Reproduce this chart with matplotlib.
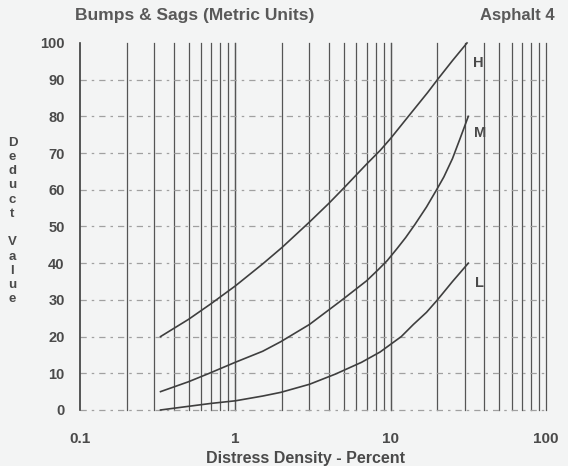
import numpy as np
import matplotlib.pyplot as plt

plt.rcParams['font.family'] = ['Liberation Sans', 'DejaVu Sans']

# values (density %, deduct value)
h_x = [0.33, 0.5, 0.7, 1.0, 1.5, 2.0, 3.0, 4.0, 5.0, 7.0, 8.55, 10.0, 13.0, 17.3, 20.0, 25.0, 31.0]
h_y = [20.0, 24.7, 29.0, 33.8, 39.8, 44.3, 51.2, 56.3, 60.5, 67.0, 70.7, 74.0, 80.0, 86.5, 90.0, 95.2, 100.0]

m_x = [0.33, 0.5, 0.68, 1.0, 1.5, 1.96, 3.0, 4.87, 7.0, 8.3, 9.5, 11.0, 12.5, 14.3, 17.0, 20.0, 22.0, 25.0, 28.0, 31.6]
m_y = [5.0, 7.7, 10.0, 13.0, 16.0, 18.6, 23.3, 30.0, 35.2, 38.2, 40.7, 44.0, 47.0, 50.5, 55.3, 60.4, 63.5, 68.5, 74.0, 80.0]

l_x = [0.33, 0.5, 0.7, 1.0, 1.5, 1.96, 3.0, 4.42, 6.5, 8.55, 11.7, 14.0, 17.0, 20.0, 25.0, 31.6]
l_y = [0.0, 1.0, 1.8, 2.5, 3.8, 4.8, 7.0, 9.8, 13.0, 15.8, 20.0, 23.3, 26.6, 30.0, 35.0, 40.0]

curve_names = ['H', 'M', 'L']
label_pos = [(34, 94.5), (34.5, 75.5), (35, 34.5)]

x_ticks = [0.1, 1, 10, 100]
x_tick_labels = ['0.1', '1', '10', '100']
y_ticks = list(range(0, 101, 10))

ink = '#4a4a4a'
fig = plt.figure(figsize=(5.68, 4.66), dpi=100, facecolor='#f3f4f4')
ax = fig.add_axes([0.1408, 0.1202, 0.8205, 0.7876])
ax.set_facecolor('#f3f4f4')
ax.set_xscale('log')
ax.set_xlim(0.1, 100)
ax.set_ylim(0, 100)

# vertical grid: every integer multiple per decade
for dec in [0.1, 1, 10]:
    for k in range(1, 11):
        v = dec * k
        if v <= 100:
            dark = v == 0.1
            ax.axvline(v, color='#3a3a3a' if dark else '#555555', lw=1.2 if dark else 0.9,
                       zorder=2 if dark else 1, clip_on=False)
# horizontal dashed grid
for v in range(0, 100, 10):
    ax.axhline(v, color='#a0a0a0', lw=0.9, ls=(0, (5, 4, 2, 4)), zorder=1, clip_on=False)

for xs, ys, name, pos in zip([h_x, m_x, l_x], [h_y, m_y, l_y], curve_names, label_pos):
    ax.plot(xs, ys, color='#3f3f3f', lw=1.2, zorder=3, clip_on=False)
    ax.text(pos[0], pos[1], name, fontsize=10.5, fontweight='bold', color=ink,
            ha='left', va='center')

for s in ax.spines.values():
    s.set_visible(False)
ax.tick_params(length=0)
ax.set_xticks(x_ticks)
ax.set_xticklabels(x_tick_labels, fontsize=11, fontweight='bold', color=ink)
ax.set_xticks([], minor=True)
ax.set_yticks(y_ticks)
ax.set_yticklabels([str(v) for v in y_ticks], fontsize=10.5, fontweight='bold', color=ink)
ax.tick_params(axis='y', pad=11)
ax.tick_params(axis='x', pad=16)

fig.text(0.537, 0.017, 'Distress Density - Percent', fontsize=11.5, fontweight='bold',
         color=ink, ha='center', va='center')
fig.text(0.022, 0.526, 'D\ne\nd\nu\nc\nt\n\nV\na\nl\nu\ne', fontsize=9.5, fontweight='bold',
         color=ink, ha='center', va='center', linespacing=1.25)
fig.text(0.132, 0.967, 'Bumps & Sags (Metric Units)', fontsize=12.5, fontweight='bold',
         color='#595959', ha='left', va='center')
fig.text(0.977, 0.967, 'Asphalt 4', fontsize=12, fontweight='bold',
         color='#595959', ha='right', va='center')

fig.savefig('out.png', dpi=100, facecolor=fig.get_facecolor())
